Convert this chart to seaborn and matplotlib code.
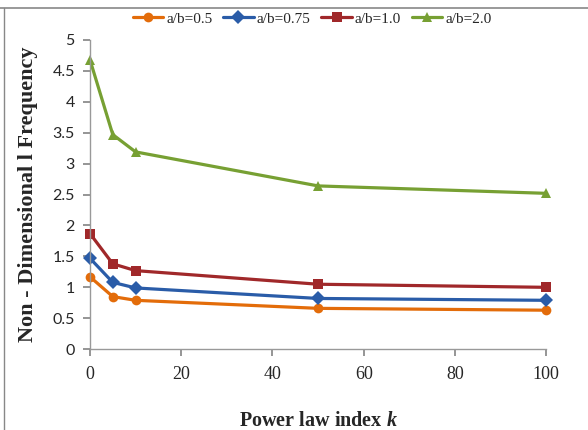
import numpy as np
import pandas as pd
import seaborn as sns
import matplotlib.pyplot as plt

# data
k = [0, 5, 10, 50, 100]
ab_05 = [1.17, 0.85, 0.79, 0.66, 0.63]
ab_075 = [1.47, 1.08, 0.99, 0.82, 0.79]
ab_10 = [1.87, 1.38, 1.27, 1.05, 1.00]
ab_20 = [4.68, 3.47, 3.19, 2.64, 2.52]
labels = ['a/b=0.5', 'a/b=0.75', 'a/b=1.0', 'a/b=2.0']

df = pd.DataFrame({'k': k * 4,
                   'freq': ab_05 + ab_075 + ab_10 + ab_20,
                   'series': [l for l in labels for _ in k]})

colors = ['#E36C0A', '#2A5CA8', '#A0282A', '#77A033']
markers = ['o', 'D', 's', '^']

sns.set_theme(style='white')
plt.rcParams['font.family'] = ['Liberation Serif', 'DejaVu Serif']
plt.rcParams['mathtext.fontset'] = 'custom'
plt.rcParams['mathtext.bfit'] = 'Liberation Serif:bold:italic'

fig = plt.figure(figsize=(5.88, 4.30), dpi=100)
ax = fig.add_axes([0.153, 0.188, 0.776, 0.719])

sns.lineplot(data=df, x='k', y='freq', hue='series', style='series',
             palette=colors, markers=markers, dashes=False, linewidth=2.3,
             markersize=7, markeredgewidth=0, ax=ax)

ax.set_xlim(0, 100)
ax.set_ylim(0, 5)
ax.set_xticks([0, 20, 40, 60, 80, 100])
ax.set_yticks([0, 0.5, 1, 1.5, 2, 2.5, 3, 3.5, 4, 4.5, 5])
ax.set_yticklabels(['0', '0.5', '1', '1.5', '2', '2.5', '3', '3.5', '4', '4.5', '5'],
                   family='Lato', fontsize=11.5)
ax.tick_params(axis='x', labelsize=13, length=5, color='#888888', direction='out',
               bottom=True, pad=7)
ax.tick_params(axis='y', length=5, color='#888888', direction='out', left=True, pad=6)
for lab in ax.get_xticklabels():
    lab.set_family('Liberation Serif')
for ln in ax.lines:
    ln.set_clip_on(False)

sns.despine(ax=ax)
for s in ['left', 'bottom']:
    ax.spines[s].set_color('#999999')
    ax.spines[s].set_linewidth(1)

ax.set_xlabel(r'Power law index $\mathbfit{k}$', fontsize=14.5, fontweight='bold', labelpad=20)
ax.set_ylabel('Non - Dimensional l Frequency', fontsize=16, fontweight='bold', labelpad=10)

ax.legend(loc='upper center', bbox_to_anchor=(0.487, 1.11), ncol=4, frameon=False,
          fontsize=11, handlelength=2.0, columnspacing=0.7, handletextpad=0.2,
          borderaxespad=0)

# frame lines of the original picture
fig.add_artist(plt.Line2D([0, 1], [0.981, 0.981], color='#888888', lw=1.2,
                          transform=fig.transFigure))
fig.add_artist(plt.Line2D([0.006, 0.006], [0, 0.981], color='#888888', lw=1.0,
                          transform=fig.transFigure))

fig.savefig('out.png', dpi=100)
